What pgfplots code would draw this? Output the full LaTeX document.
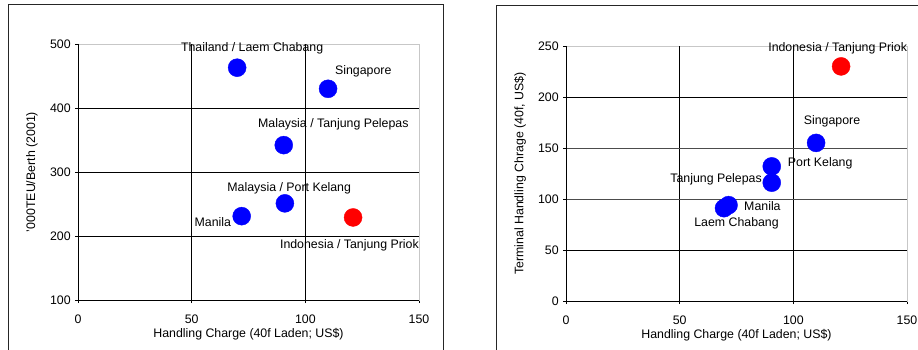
\documentclass[border=0pt]{standalone}
\usepackage{fontspec}
\setmainfont{Liberation Sans}
\usepackage{pgfplots}
\pgfplotsset{compat=1.18}

\pgfplotsset{
  portaxis/.style={
    scale only axis,
    width=341bp,
    xmin=0, xmax=150,
    xtick={0,50,100,150},
    xtick pos=lower, ytick pos=left,
    tick align=outside,
    major tick length=3bp,
    tick style={black, line width=0.7bp},
    axis line style={draw=black!22, line width=0.8bp},
    /pgf/number format/assume math mode=true,
    ticklabel style={font=\fontsize{12.4}{14}\selectfont},
    xticklabel style={yshift=-8bp},
    label style={font=\fontsize{12.4}{14}\selectfont},
    xlabel={Handling Charge (40f Laden; US\$)},
    clip=false,
  },
  port/.style={only marks, mark=*, mark size=9bp},
}
\tikzset{gridline/.style={black, line width=0.8bp},
         softgrid/.style={black!70, line width=0.9bp}}

\begin{document}
\fontsize{12.4}{14}\selectfont
\begin{tikzpicture}[x=1bp, y=1bp]
\useasboundingbox (0,0) rectangle (918,349);
% outer chart frames
\draw[line width=1bp, black!85] (8,-5) rectangle (443,344);
\draw[line width=1bp, black!85] (496,-5) rectangle (930,343);

% ---- throughput per berth vs handling charge ----
\begin{axis}[portaxis,
  at={(78bp,49bp)}, anchor=south west,
  height=256bp,
  ymin=100, ymax=500, ytick={100,200,...,500},
  ylabel={'000TEU/Berth (2001)},
  xlabel style={at={(axis description cs:0.5,-0.133)}, anchor=center},
  ylabel style={at={(axis description cs:-0.135,0.5)}, anchor=center},
]
\draw[gridline] (axis cs:50,100) -- (axis cs:50,500);
\draw[gridline] (axis cs:100,100) -- (axis cs:100,500);
\draw[gridline] (axis cs:0,200) -- (axis cs:150,200);
\draw[gridline] (axis cs:0,300) -- (axis cs:150,300);
\draw[gridline] (axis cs:0,400) -- (axis cs:150,400);
\draw[black, line width=0.8bp] (rel axis cs:0,1) -- (rel axis cs:0,0) -- (rel axis cs:1,0);
\addplot[port, color=blue] coordinates {
  (70,463) (110,430) (90.5,342) (91,251) (72,231)
};
\addplot[port, color=red] coordinates {(121,229)};
\node at (axis cs:76.6,494) {Thailand / Laem Chabang};
\node at (axis cs:125.5,458) {Singapore};
\node at (axis cs:112.3,374) {Malaysia / Tanjung Pelepas};
\node at (axis cs:92.9,274) {Malaysia / Port Kelang};
\node at (axis cs:59.3,221) {Manila};
\node at (axis cs:119.4,186) {Indonesia / Tanjung Priok};
\end{axis}

% ---- terminal handling charge vs handling charge ----
\begin{axis}[portaxis,
  at={(566bp,48bp)}, anchor=south west,
  height=255bp,
  ymin=0, ymax=250, ytick={0,50,...,250},
  ylabel={Terminal Handling Chrage (40f, US\$)},
  xlabel style={at={(axis description cs:0.5,-0.133)}, anchor=center},
  ylabel style={at={(axis description cs:-0.135,0.5)}, anchor=center},
]
\draw[gridline] (axis cs:50,0) -- (axis cs:50,250);
\draw[gridline] (axis cs:100,0) -- (axis cs:100,250);
\draw[gridline] (axis cs:0,50) -- (axis cs:150,50);
\draw[softgrid] (axis cs:0,100) -- (axis cs:150,100);
\draw[softgrid] (axis cs:0,150) -- (axis cs:150,150);
\draw[gridline] (axis cs:0,200) -- (axis cs:150,200);
\draw[black, line width=0.8bp] (rel axis cs:0,1) -- (rel axis cs:0,0) -- (rel axis cs:1,0);
\addplot[port, color=blue] coordinates {
  (110,155) (90.5,132) (90.5,116) (71.5,94) (69.5,91)
};
\addplot[port, color=red] coordinates {(121,230)};
\node at (axis cs:119.5,247.4) {Indonesia / Tanjung Priok};
\node at (axis cs:117,175.8) {Singapore};
\node at (axis cs:111.8,134.6) {Port Kelang};
\node at (axis cs:66,119.6) {Tanjung Pelepas};
\node at (axis cs:86.4,93.4) {Manila};
\node at (axis cs:75,76.3) {Laem Chabang};
\end{axis}
\end{tikzpicture}
\end{document}
